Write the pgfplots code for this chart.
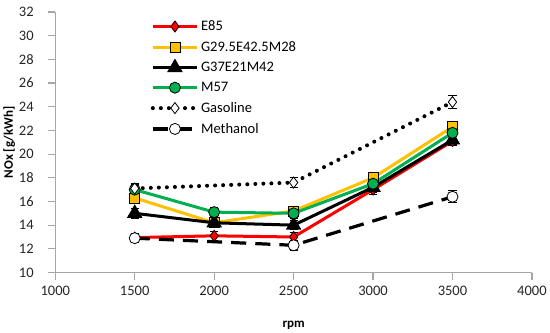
\documentclass[border=0pt]{standalone}
\usepackage{pgfplots}
\pgfplotsset{compat=1.18}
\usepackage{fontspec}
\setmainfont{Carlito}
\definecolor{cRed}{HTML}{FF0000}
\definecolor{cGold}{HTML}{FFC000}
\definecolor{cGreen}{HTML}{00B050}
\definecolor{axgray}{HTML}{A6A6A6}
\begin{document}
\begin{tikzpicture}[x=1bp,y=1bp]
\begin{axis}[
  scale only axis,
  width=474bp, height=259bp,
  xmin=1000, xmax=4000, ymin=10, ymax=32,
  xtick={1000,1500,...,4000}, ytick={10,12,...,32},
  /pgf/number format/assume math mode=true,
  /pgf/number format/1000 sep={},
  axis x line*=bottom, axis y line*=left,
  axis line style={axgray, line width=1.2pt, -},
  tick style={axgray, line width=1.2pt},
  tick align=outside, major tick length=7bp,
  ticklabel style={font=\fontsize{14.5}{16}\selectfont, text=black!85},
  xticklabel style={yshift=-3bp},
  yticklabel style={xshift=-11bp},
  xlabel={\textbf{rpm}}, ylabel={\textbf{NOx [g/kWh]}},
  label style={font=\fontsize{13}{15}\selectfont},
  xlabel style={yshift=-18bp},
  ylabel style={yshift=-3bp},
  clip=false,
  extra description/.code={\path (rel axis cs:0,1) ++(0,12bp);},
  legend style={draw=none, fill=none, at={(rel axis cs:0.2,0.975)}, anchor=north west,
    font=\fontsize{14.5}{16}\selectfont, row sep=5.2bp, inner sep=0pt,
    /tikz/every even column/.style={column sep=2bp}},
  legend cell align=left,
  legend image code/.code={\draw[mark repeat=2,mark phase=2] plot coordinates {(0bp,0bp) (22bp,0bp) (44bp,0bp)};},
  error bars/y dir=both, error bars/y explicit,
  error bars/error bar style={black, line width=0.8pt, solid},
  error bars/error mark options={rotate=90, black, mark size=4bp, line width=0.8pt},
]
\addplot[cRed, line width=3pt, mark=diamond*, mark size=5.5bp, mark options={fill=cRed, draw=black, line width=0.8pt, solid}]
  table[x=x, y=y, y error=e] {
x y e
1500 12.95 0.35
2000 13.1 0.35
2500 13.0 0.35
3000 17.0 0.4
3500 21.1 0.4
};
\addlegendentry{E85}
\addplot[cGold, line width=3pt, mark=square*, mark size=5bp, mark options={fill=cGold, draw=black, line width=0.8pt, solid}]
  table[x=x, y=y, y error=e] {
x y e
1500 16.3 0.45
2000 14.2 0.4
2500 15.2 0.4
3000 18.0 0.45
3500 22.3 0.45
};
\addlegendentry{G29.5E42.5M28}
\addplot[black, line width=3pt, mark=triangle*, mark size=6bp, mark options={fill=black, draw=black, solid}]
  table[x=x, y=y, y error=e] {
x y e
1500 15.0 0.4
2000 14.2 0.4
2500 14.0 0.4
3000 17.2 0.4
3500 21.2 0.4
};
\addlegendentry{G37E21M42}
\addplot[cGreen, line width=3pt, mark=*, mark size=5.5bp, mark options={fill=cGreen, draw=black, line width=0.8pt, solid}]
  table[x=x, y=y, y error=e] {
x y e
1500 17.0 0.45
2000 15.1 0.4
2500 15.0 0.4
3000 17.5 0.45
3500 21.8 0.45
};
\addlegendentry{M57}
\addplot[black, line width=4bp, dash pattern=on 0pt off 8bp, line cap=round, mark=diamond*, mark size=5.5bp, mark options={fill=white, draw=black, line width=0.8pt, solid}]
  table[x=x, y=y, y error=e] {
x y e
1500 17.1 0.4
2500 17.6 0.45
3500 24.4 0.55
};
\addlegendentry{Gasoline}
\addplot[black, line width=3.2pt, dash pattern=on 15bp off 9bp, mark=*, mark size=5.5bp, mark options={fill=white, draw=black, line width=0.8pt, solid}]
  table[x=x, y=y, y error=e] {
x y e
1500 12.9 0.35
2500 12.3 0.4
3500 16.4 0.5
};
\addlegendentry{Methanol}
\end{axis}
\end{tikzpicture}
\end{document}
